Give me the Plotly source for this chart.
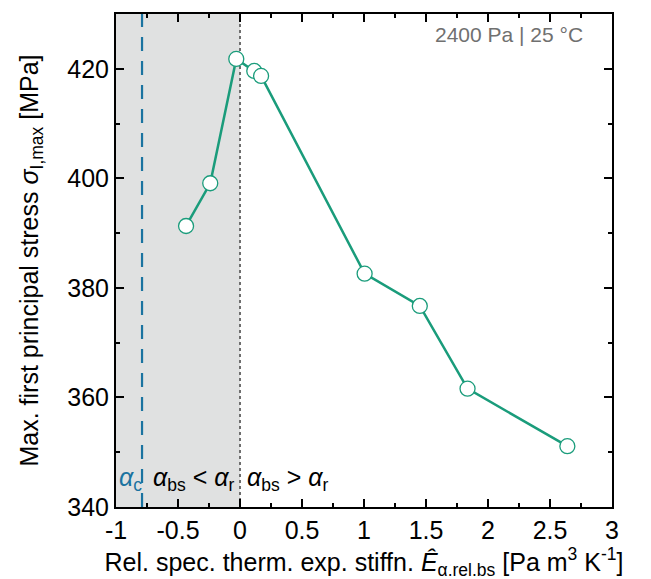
import plotly.graph_objects as go

# Data
E_rel = [-0.435, -0.24, -0.03, 0.115, 0.17, 1.005, 1.45, 1.835, 2.64]
sigma_max = [391.3, 399.1, 421.8, 419.6, 418.7, 382.6, 376.7, 361.6, 351.1]
alpha_c = -0.79
x_ticks = [-1, -0.5, 0, 0.5, 1, 1.5, 2, 2.5, 3]
x_tick_labels = ["-1", "-0.5", "0", "0.5", "1", "1.5", "2", "2.5", "3"]
y_ticks = [340, 360, 380, 400, 420]

GREEN = "#1a9c7b"
BLUE = "#1a73a0"
FONT = "Liberation Sans"

fig = go.Figure()
fig.add_trace(go.Scatter(
    x=E_rel, y=sigma_max, mode="lines+markers",
    line=dict(color=GREEN, width=2.5),
    marker=dict(size=15, color="white", line=dict(color=GREEN, width=1.3)),
    showlegend=False, cliponaxis=False,
))

# shaded region alpha_bs < alpha_r
fig.add_shape(type="rect", xref="x", yref="paper", x0=-1, x1=0, y0=0, y1=1,
              fillcolor="#e0e1e1", line=dict(width=0), layer="below")
fig.add_shape(type="line", xref="x", yref="paper", x0=0, x1=0, y0=0, y1=1,
              line=dict(color="#6e6e6e", width=2, dash="dot"), layer="below")
fig.add_shape(type="line", xref="x", yref="paper", x0=alpha_c, x1=alpha_c, y0=0, y1=1,
              line=dict(color=BLUE, width=2.2, dash="14px,10px"), layer="below")

fig.add_annotation(x=-0.775, y=0.02, xref="x", yref="paper", xanchor="right", yanchor="bottom",
                   text="<i>α</i><sub>c</sub>", showarrow=False,
                   font=dict(color=BLUE, size=25, family=FONT))
fig.add_annotation(x=-0.715, y=0.02, xref="x", yref="paper", xanchor="left", yanchor="bottom",
                   text="<i>α</i><sub>bs</sub> &lt; <i>α</i><sub>r</sub>", showarrow=False,
                   font=dict(color="black", size=25, family=FONT))
fig.add_annotation(x=0.04, y=0.02, xref="x", yref="paper", xanchor="left", yanchor="bottom",
                   text="<i>α</i><sub>bs</sub> &gt; <i>α</i><sub>r</sub>", showarrow=False,
                   font=dict(color="black", size=25, family=FONT))
fig.add_annotation(x=0.945, y=0.985, xref="paper", yref="paper", xanchor="right", yanchor="top",
                   text="2400 Pa | 25 °C", showarrow=False,
                   font=dict(color="#707070", size=21, family=FONT))

axis_common = dict(
    showline=True, linecolor="black", linewidth=2, mirror="ticks",
    ticks="inside", ticklen=8, tickwidth=2, tickcolor="black",
    showgrid=False, zeroline=False,
    tickfont=dict(size=25, color="black", family=FONT),
)

fig.update_xaxes(
    range=[-1, 3], tickvals=x_ticks, ticktext=x_tick_labels,
    minor=dict(ticks="inside", ticklen=4, tickwidth=2, tickcolor="black", dtick=0.25, showgrid=False),
    title=dict(text="Rel. spec. therm. exp. stiffn. <i>Ê</i><sub>α.rel.bs</sub> [Pa m<sup>3</sup> K<sup>-1</sup>]",
               font=dict(size=25, color="black", family=FONT), standoff=2),
    **axis_common,
)
fig.update_yaxes(
    range=[340, 430], tickvals=y_ticks,
    minor=dict(ticks="inside", ticklen=4, tickwidth=2, tickcolor="black", dtick=10, showgrid=False),
    title=dict(text="Max. first principal stress <i>σ</i><sub>I,max</sub> [MPa]",
               font=dict(size=25, color="black", family=FONT), standoff=22),
    **axis_common,
)

fig.update_layout(
    width=651, height=579,
    margin=dict(l=108, r=47, t=4, b=80),
    plot_bgcolor="white", paper_bgcolor="white",
    font=dict(family=FONT),
)

fig.write_html("out.html")
